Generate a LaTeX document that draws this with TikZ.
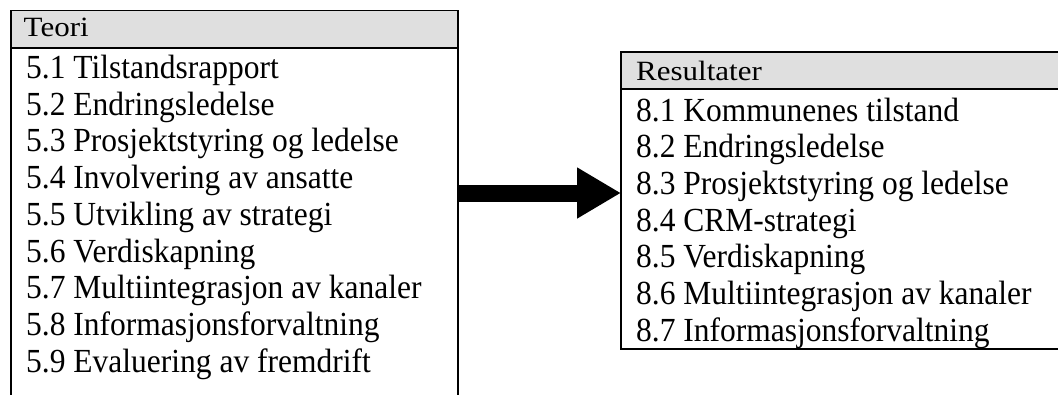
\documentclass[tikz,border=0pt]{standalone}
\usepackage{fontspec}
\usepackage{graphicx}
\setmainfont{Liberation Serif}
\usetikzlibrary{arrows.meta}
\definecolor{headgray}{RGB}{223,223,223}
\newcommand{\headlabel}[1]{\scalebox{1}[0.9]{#1}}
\newcommand{\entrylabel}[1]{\scalebox{1}[1.07]{#1}}
\tikzset{
  frame/.style={draw=black, line width=1.6pt, outer sep=0pt, inner sep=0pt},
  headbar/.style={frame, fill=headgray},
  headtext/.style={anchor=base west, inner sep=0pt, font=\fontsize{31}{31}\selectfont},
  entrytext/.style={anchor=base west, inner sep=0pt, font=\fontsize{31.5}{31.5}\selectfont},
  bigarrow/.style={line width=17pt, -{Triangle[length=44pt, width=48pt]}}
}
\begin{document}
\begin{tikzpicture}[x=1pt, y=-1pt]
\useasboundingbox (0,0) rectangle (1058,394);

% left column: theory chapters
\node[headbar, anchor=north west, minimum width=447pt, minimum height=37.5pt] (teorihead) at (11,10.5) {};
\node[frame, anchor=north west, minimum width=447pt, minimum height=352pt] (teoribody) at (11,48) {};
\node[headtext] (teorilabel) at (23.5,36) {\headlabel{Teori}};
\foreach \txt [count=\i] in {
  5.1 Tilstandsrapport,
  5.2 Endringsledelse,
  5.3 Prosjektstyring og ledelse,
  5.4 Involvering av ansatte,
  5.5 Utvikling av strategi,
  5.6 Verdiskapning,
  5.7 Multiintegrasjon av kanaler,
  5.8 Informasjonsforvaltning,
  5.9 Evaluering av fremdrift}
  \node[entrytext] (t\i) at (26, 78.5+36.7*\i-36.7) {\entrylabel{\txt}};

% right column: result chapters
\node[headbar, anchor=north west, minimum width=440pt, minimum height=37pt] (reshead) at (621,52) {};
\node[frame, anchor=north west, minimum width=440pt, minimum height=260pt] (resbody) at (621,89) {};
\node[headtext] (reslabel) at (636,80) {\headlabel{Resultater}};
\foreach \txt [count=\i] in {
  8.1 Kommunenes tilstand,
  8.2 Endringsledelse,
  8.3 Prosjektstyring og ledelse,
  8.4 CRM-strategi,
  8.5 Verdiskapning,
  8.6 Multiintegrasjon av kanaler,
  8.7 Informasjonsforvaltning}
  \node[entrytext] (r\i) at (636, 121+36.7*\i-36.7) {\entrylabel{\txt}};

% arrow from theory to results
\coordinate (arrowlevel) at (0,193);
\draw[bigarrow] (teoribody.east |- arrowlevel) -- (resbody.west |- arrowlevel);
\end{tikzpicture}
\end{document}
